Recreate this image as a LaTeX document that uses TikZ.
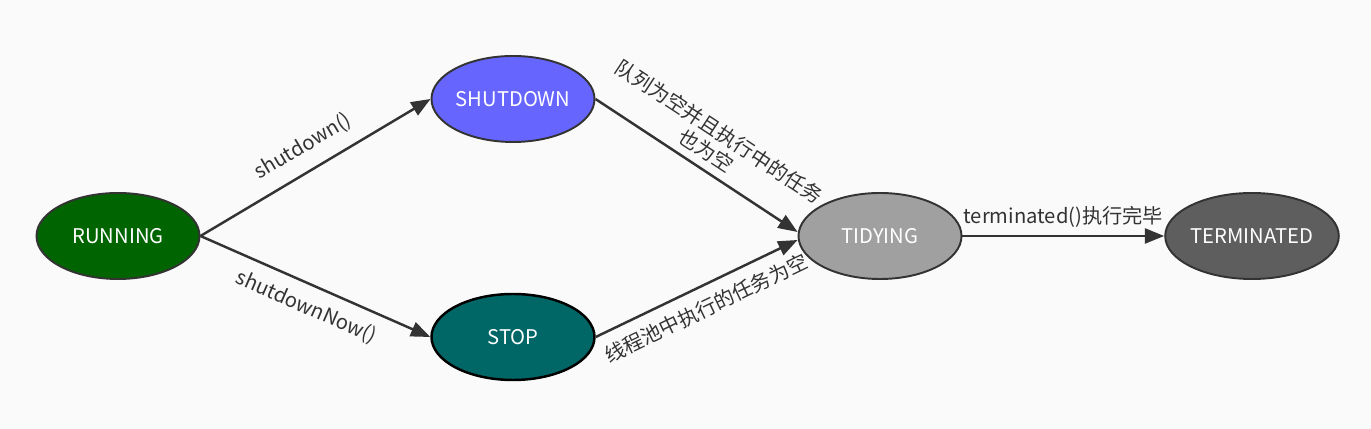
\documentclass[tikz,border=0pt]{standalone}
\usepackage{fontspec}
\setmainfont{Noto Sans CJK SC}
\usetikzlibrary{shapes.geometric,arrows.meta}
\definecolor{bgcol}{HTML}{FAFAFA}
\definecolor{linecol}{HTML}{333333}
\definecolor{runcol}{HTML}{006400}
\definecolor{shutcol}{HTML}{6666FF}
\definecolor{stopcol}{HTML}{006666}
\definecolor{tidycol}{HTML}{A0A0A0}
\definecolor{termcol}{HTML}{5E5E5E}

\begin{document}
\begin{tikzpicture}[
    state/.style={ellipse,draw=linecol,line width=1.1pt,minimum width=3.26cm,
        minimum height=1.72cm,inner sep=0pt,text=white,font=\fontsize{11.5}{13}\selectfont},
    trans/.style={draw=linecol,line width=1.4pt,-{Triangle[length=11pt,width=8.5pt]}},
    lbl/.style={text=linecol,font=\fontsize{11.5}{13}\selectfont}]
    \fill[bgcol] (0,0) rectangle (27.42,8.58);
    \useasboundingbox (0,0) rectangle (27.42,8.58);

    \node[state,fill=runcol] (running) at (2.36,3.86) {RUNNING};
    \node[state,fill=shutcol] (shutdown) at (10.26,6.60) {SHUTDOWN};
    \node[state,fill=stopcol,draw=black,line width=1.4pt] (stop) at (10.26,1.84) {STOP};
    \node[state,fill=tidycol] (tidying) at (17.60,3.86) {TIDYING};
    \node[state,fill=termcol] (terminated) at (25.04,3.86) {TERMINATED};

%   transitions
    \draw[trans] (running.east) -- node[lbl,sloped,above=4pt] {shutdown()} (shutdown.west);
    \draw[trans] (running.east) -- node[lbl,sloped,below=3pt] {shutdownNow()} (stop.west);
    \draw[trans] (shutdown.east) -- node[lbl,sloped,above=1pt,align=center]
        {队列为空并且执行中的任务\\也为空} ([yshift=0.08cm]tidying.west);
    \draw[trans] (stop.east) -- node[lbl,sloped,below=3pt] {线程池中执行的任务为空}
        ([yshift=-0.08cm]tidying.west);
    \draw[trans] (tidying.east) -- node[lbl,above=1pt] {terminated()执行完毕} (terminated.west);
\end{tikzpicture}
\end{document}
